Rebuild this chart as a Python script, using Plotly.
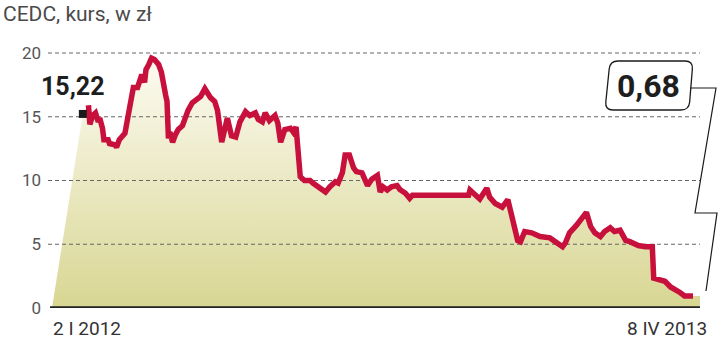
import pandas as pd
import plotly.graph_objects as go

# ---------------- data ----------------
title_text = "CEDC, kurs, w zł"
start_date = "2012-01-02"
end_date = "2013-04-08"
x_labels = ["2 I 2012", "8 IV 2013"]
y_ticks = [0, 5, 10, 15, 20]
first_label = "15,22"
last_label = "0,68"

# days after 2 I 2012
day_offsets = [26, 27, 29, 31, 33, 34, 36, 37, 40, 41, 45, 46, 48, 51, 52, 54, 56, 58, 61, 63,
               64, 66, 67, 69, 71, 73, 76, 78, 79, 80, 81, 82, 83, 84, 86, 88, 90, 93, 95, 97,
               100, 103, 106, 109, 113, 116, 118, 121, 125, 128, 131, 134, 138, 141, 145, 147, 150, 152, 155, 159,
               161, 163, 166, 170, 172, 174, 176, 177, 180, 184, 186, 190, 193, 195, 198, 202, 204, 207, 209, 212,
               215, 217, 221, 223, 225, 228, 232, 234, 236, 239, 242, 246, 248, 252, 255, 257, 297, 298, 305, 310,
               312, 316, 321, 325, 328, 330, 332, 334, 337, 342, 348, 355, 359, 364, 366, 369, 374, 379, 381, 384,
               387, 391, 394, 398, 401, 405, 409, 412, 418, 423, 428, 429, 434, 437, 441, 444, 448, 451, 457]
prices = [15.9, 14.4, 15.1, 15.3, 14.6, 14.9, 14.1, 13.2, 13.2, 12.9, 12.8, 12.6, 13.2, 13.6, 13.7, 14.9, 16.1, 17.3, 17.3, 18.0,
          18.3, 17.7, 18.7, 19.1, 19.6, 19.5, 19.1, 18.5, 17.7, 17.5, 16.7, 16.2, 13.3, 13.8, 13.0, 13.6, 14.0, 14.3, 15.1, 15.5,
          16.1, 16.4, 16.6, 17.2, 16.5, 16.2, 15.5, 13.0, 14.9, 13.5, 13.4, 14.6, 15.4, 15.1, 15.3, 14.8, 14.6, 15.3, 14.7, 15.1,
          14.5, 13.0, 14.0, 14.1, 13.8, 14.2, 11.0, 10.3, 10.0, 10.0, 9.8, 9.5, 9.3, 9.1, 9.5, 9.9, 9.8, 10.6, 12.0, 12.0,
          11.0, 10.7, 10.6, 10.2, 9.6, 10.1, 10.4, 9.1, 9.5, 9.25, 9.5, 9.6, 9.3, 9.0, 8.6, 8.85, 8.85, 9.25, 8.55, 9.4,
          8.7, 8.2, 7.9, 8.5, 7.1, 6.5, 5.3, 5.2, 6.0, 5.9, 5.6, 5.5, 5.2, 4.8, 5.1, 5.9, 6.5, 7.3, 7.5, 6.4,
          5.9, 5.6, 6.0, 6.3, 6.0, 6.1, 5.3, 5.2, 4.9, 4.8, 4.8, 2.35, 2.2, 2.1, 1.65, 1.5, 1.2, 0.95, 0.95]
assert len(day_offsets) == len(prices)

marker_days = [22, 466]
marker_prices = [15.22, 0.95]

# ---------------- layout geometry ----------------
W, H = 720, 340
L, R, T, B = 48, 20, 49, 32
PW, PH = W - L - R, H - T - B

t0 = pd.Timestamp(start_date)
t1 = pd.Timestamp(end_date)
total_days = (t1 - t0).days
days_per_px = total_days / (W - R - 52)
x_start = t0 - pd.Timedelta(days=(52 - L) * days_per_px)
y_top = 20 + (53 - T) * 20 / 255.0


def px(x):
    return (x - L) / PW


def py(y):
    return (H - B - y) / PH


dates = [t0 + pd.Timedelta(days=d) for d in day_offsets]
mdates = [t0 + pd.Timedelta(days=d) for d in marker_days]

RED = "#c8103c"
fig = go.Figure()

# area fill
fig.add_trace(go.Scatter(
    x=[t0, mdates[0]] + dates + [t1, t1],
    y=[0, marker_prices[0]] + prices + [prices[-1], 0],
    mode="lines", fill="toself", line=dict(width=0),
    fillgradient=dict(type="vertical", start=0, stop=20,
                      colorscale=[[0, "#d8d692"], [0.5, "#ebe9c4"], [1, "#fdfcf3"]]),
    hoverinfo="skip", showlegend=False))

# dashed grid lines (above the fill, below the line)
for v in y_ticks[1:]:
    fig.add_trace(go.Scatter(
        x=[x_start, t1], y=[v, v], mode="lines",
        line=dict(color="#666666", width=1, dash="4px,3px"),
        hoverinfo="skip", showlegend=False))

# price line
fig.add_trace(go.Scatter(
    x=dates, y=prices, mode="lines",
    line=dict(color=RED, width=5.5),
    hoverinfo="skip", showlegend=False))

# end markers
fig.add_trace(go.Scatter(
    x=mdates, y=marker_prices, mode="markers",
    marker=dict(symbol="square", size=8, color="#1a1a1a"),
    cliponaxis=False, hoverinfo="skip", showlegend=False))


def rounded_quad(pts, r):
    import math
    n = len(pts)
    segs = []
    for i in range(n):
        p0 = pts[i - 1]
        p1 = pts[i]
        p2 = pts[(i + 1) % n]
        d1 = (p0[0] - p1[0], p0[1] - p1[1])
        d2 = (p2[0] - p1[0], p2[1] - p1[1])
        l1 = math.hypot(*d1)
        l2 = math.hypot(*d2)
        a = (p1[0] + d1[0] / l1 * r, p1[1] + d1[1] / l1 * r)
        b = (p1[0] + d2[0] / l2 * r, p1[1] + d2[1] / l2 * r)
        segs.append((a, p1, b))
    path = "M %f,%f " % (px(segs[0][0][0]), py(segs[0][0][1]))
    for k, (a, c, b) in enumerate(segs):
        if k > 0:
            path += "L %f,%f " % (px(a[0]), py(a[1]))
        path += "Q %f,%f %f,%f " % (px(c[0]), py(c[1]), px(b[0]), py(b[1]))
    return path + "Z"


box_path = rounded_quad([(610, 61), (693, 61), (689, 110), (605, 110)], 8)
conn_pts = [(690, 88), (716, 88), (695, 213), (717, 213), (706, 291)]
conn_path = "M " + " L ".join("%f,%f" % (px(a), py(b)) for a, b in conn_pts)

shapes = [
    dict(type="path", xref="paper", yref="paper", path=box_path,
         line=dict(color="#1a1a1a", width=1.3), fillcolor="white", layer="above"),
    dict(type="path", xref="paper", yref="paper", path=conn_path,
         line=dict(color="#1a1a1a", width=1.2), layer="above"),
    dict(type="line", xref="paper", yref="y", x0=px(50), x1=1, y0=0, y1=0,
         line=dict(color="#222222", width=3.5), layer="above"),
]

annotations = [
    dict(text=title_text, xref="paper", yref="paper", x=px(1), y=py(14),
         xanchor="left", yanchor="middle", showarrow=False,
         font=dict(family="Roboto", size=21, color="#4a4a4a")),
    dict(text=x_labels[0], xref="x", yref="paper", x=t0, y=py(328),
         xanchor="left", yanchor="middle", showarrow=False, xshift=-1,
         font=dict(family="Roboto", size=19, color="#333333")),
    dict(text=x_labels[1], xref="x", yref="paper", x=t1, y=py(328),
         xanchor="right", yanchor="middle", showarrow=False, xshift=9,
         font=dict(family="Roboto", size=19, color="#333333")),
    dict(text="<b>%s</b>" % first_label, xref="paper", yref="paper", x=px(39), y=py(86),
         xanchor="left", yanchor="middle", showarrow=False,
         font=dict(family="Roboto", size=25, color="#1e1e1e")),
    dict(text="<b>%s</b>" % last_label, xref="paper", yref="paper", x=px(648), y=py(86),
         xanchor="center", yanchor="middle", showarrow=False,
         font=dict(family="Roboto", size=32, color="#1e1e1e")),
]

fig.update_layout(
    width=W, height=H,
    margin=dict(l=L, r=R, t=T, b=B),
    paper_bgcolor="white", plot_bgcolor="white",
    showlegend=False,
    shapes=shapes, annotations=annotations,
    xaxis=dict(range=[x_start, t1], showticklabels=False, showgrid=False,
               zeroline=False, showline=False, ticks=""),
    yaxis=dict(range=[0, y_top], tickvals=y_ticks, ticktext=[str(v) for v in y_ticks],
               showgrid=False, zeroline=False, showline=False, ticks="",
               ticklabelstandoff=6,
               tickfont=dict(family="Roboto", size=17, color="#555555")),
)

fig.write_html("out.html")
